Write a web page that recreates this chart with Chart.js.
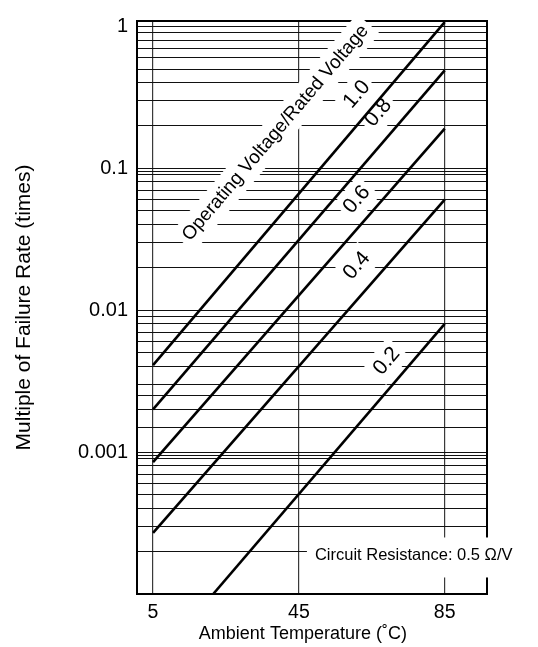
<!DOCTYPE html>
<html>
<head>
<meta charset="utf-8">
<script src="https://cdn.jsdelivr.net/npm/chart.js@4"></script>
<style>
  html, body { margin: 0; padding: 0; background: #fff; }
  canvas { display: block; }
</style>
</head>
<body>
<canvas id="chart" width="538" height="647"></canvas>
<script>
// Temperature axis (°C)
const tempTicks = [5, 45, 85];
const tempRange = [0.6, 96.6];

// Failure-rate axis
const rateRange = [0.0001, 1.09];
const decadeValues = [1, 0.1, 0.01, 0.001];
const decadeLabels = ['1', '0.1', '0.01', '0.001'];
const gridValues = [
  1, 0.9, 0.8, 0.7, 0.6, 0.5, 0.4, 0.3, 0.2,
  0.1, 0.095, 0.09, 0.08, 0.07, 0.06, 0.05, 0.04, 0.03, 0.02,
  0.01, 0.009, 0.008, 0.007, 0.006, 0.005, 0.004, 0.003, 0.0025, 0.002, 0.0015,
  0.001, 0.00095, 0.0009, 0.0008, 0.0007, 0.0006, 0.0005, 0.0004, 0.0003, 0.0002
];

// Operating voltage / rated voltage curves (straight on the log scale)
const ratioNames = ['1.0', '0.8', '0.6', '0.4', '0.2'];
const tempsFull = [5, 85];
const temps02 = [21.5, 85];
const rate10 = [0.0041, 1.07];
const rate08 = [0.002, 0.49];
const rate06 = [0.00085, 0.19];
const rate04 = [0.00027, 0.06];
const rate02 = [0.0001, 0.008];

const curveTemps = [tempsFull, tempsFull, tempsFull, tempsFull, temps02];
const curveRates = [rate10, rate08, rate06, rate04, rate02];

const FONT = "'Liberation Sans', Arial, Helvetica, sans-serif";
const X_TITLE = 'Ambient Temperature (\u02DAC)';

const datasets = ratioNames.map((name, i) => ({
  label: name,
  data: curveTemps[i].map((t, k) => ({ x: t, y: curveRates[i][k] })),
  showLine: true,
  borderColor: '#000',
  borderWidth: 2.6,
  pointRadius: 0,
  tension: 0
}));

// Draws a rotated text with a white backing box that hides the grid behind it
function boxedText(ctx, text, cx, cy, angle, size, pad) {
  ctx.save();
  ctx.translate(cx, cy);
  ctx.rotate(angle);
  ctx.font = size + 'px ' + FONT;
  const w = ctx.measureText(text).width;
  const h = size * 1.05;
  ctx.fillStyle = '#fff';
  ctx.fillRect(-w / 2 - pad, -h / 2 - pad, w + 2 * pad, h + 2 * pad);
  ctx.fillStyle = '#000';
  ctx.textAlign = 'center';
  ctx.textBaseline = 'middle';
  ctx.fillText(text, 0, 0);
  ctx.restore();
}

const annotations = {
  id: 'annotations',
  beforeDatasetsDraw(chart, args, opts) {
    const { ctx, chartArea: a, scales: { x, y } } = chart;
    ctx.save();
    ctx.strokeStyle = '#000';
    ctx.lineWidth = 2;
    ctx.strokeRect(a.left, a.top, a.right - a.left, a.bottom - a.top);
    ctx.restore();

    // text follows the slope of the curves
    const x0 = x.getPixelForValue(tempsFull[0]), y0 = y.getPixelForValue(rate10[0]);
    const x1 = x.getPixelForValue(tempsFull[1]), y1 = y.getPixelForValue(rate10[1]);
    const angle = Math.atan2(y1 - y0, x1 - x0);

    opts.curveLabels.forEach((p, i) => {
      boxedText(ctx, ratioNames[i], x.getPixelForValue(p[0]), y.getPixelForValue(p[1]), angle, 21, 4);
    });
    const c = opts.captionAt;
    boxedText(ctx, opts.caption, x.getPixelForValue(c[0]), y.getPixelForValue(c[1]), angle, 19, 5);
  },
  afterDraw(chart, args, opts) {
    const { ctx, chartArea: a, scales: { x, y } } = chart;
    const px = x.getPixelForValue(opts.noteAt[0]);
    const py = y.getPixelForValue(opts.noteAt[1]);
    ctx.save();
    ctx.fillStyle = '#fff';
    ctx.fillRect(px - 8, py - 16, chart.width - px + 8, 40);
    ctx.fillStyle = '#000';
    ctx.font = '16.5px ' + FONT;
    ctx.textAlign = 'left';
    ctx.textBaseline = 'middle';
    ctx.fillText(opts.note, px, py + 2);

    // temperature axis title, centred under the middle tick
    ctx.font = '18px ' + FONT;
    ctx.textAlign = 'center';
    ctx.fillText(X_TITLE, x.getPixelForValue(tempTicks[1]) + 4, a.bottom + 40);
    ctx.restore();
  }
};

new Chart(document.getElementById('chart'), {
  type: 'scatter',
  data: { datasets },
  options: {
    responsive: false,
    animation: false,
    layout: { padding: { left: 0, right: 51, top: 14, bottom: 0 } },
    plugins: {
      legend: { display: false },
      tooltip: { enabled: false },
      annotations: {
        curveLabels: [[60.9, 0.331], [66.8, 0.246], [60.9, 0.060], [60.9, 0.0206], [69.1, 0.00437]],
        caption: 'Operating Voltage/Rated Voltage',
        captionAt: [38.6, 0.177],
        note: 'Circuit Resistance: 0.5 \u03A9/V',
        noteAt: [49.4, 0.000193]
      }
    },
    scales: {
      x: {
        type: 'linear',
        min: tempRange[0],
        max: tempRange[1],
        afterBuildTicks: s => { s.ticks = tempTicks.map(v => ({ value: v })); },
        afterFit: s => { s.height = 53; },
        grid: { color: '#3a3a3a', lineWidth: 1.2, drawTicks: false },
        border: { display: false },
        ticks: {
          autoSkip: false, maxRotation: 0, padding: 7, color: '#000',
          font: { family: FONT, size: 19.5 },
          callback: v => String(v)
        },
        title: { display: false }
      },
      y: {
        type: 'logarithmic',
        min: rateRange[0],
        max: rateRange[1],
        afterBuildTicks: s => { s.ticks = gridValues.map(v => ({ value: v })); },
        afterFit: s => { s.width = 137; },
        grid: { color: '#111', lineWidth: 1, drawTicks: false },
        border: { display: false },
        ticks: {
          autoSkip: false, padding: 9, color: '#000',
          font: { family: FONT, size: 20 },
          callback: v => { const i = decadeValues.indexOf(v); return i >= 0 ? decadeLabels[i] : ''; }
        },
        title: {
          display: true, text: 'Multiple of Failure Rate (times)', color: '#000',
          font: { family: FONT, size: 21 }, padding: { top: 12, bottom: 0 }
        }
      }
    }
  },
  plugins: [annotations]
});
</script>
</body>
</html>
